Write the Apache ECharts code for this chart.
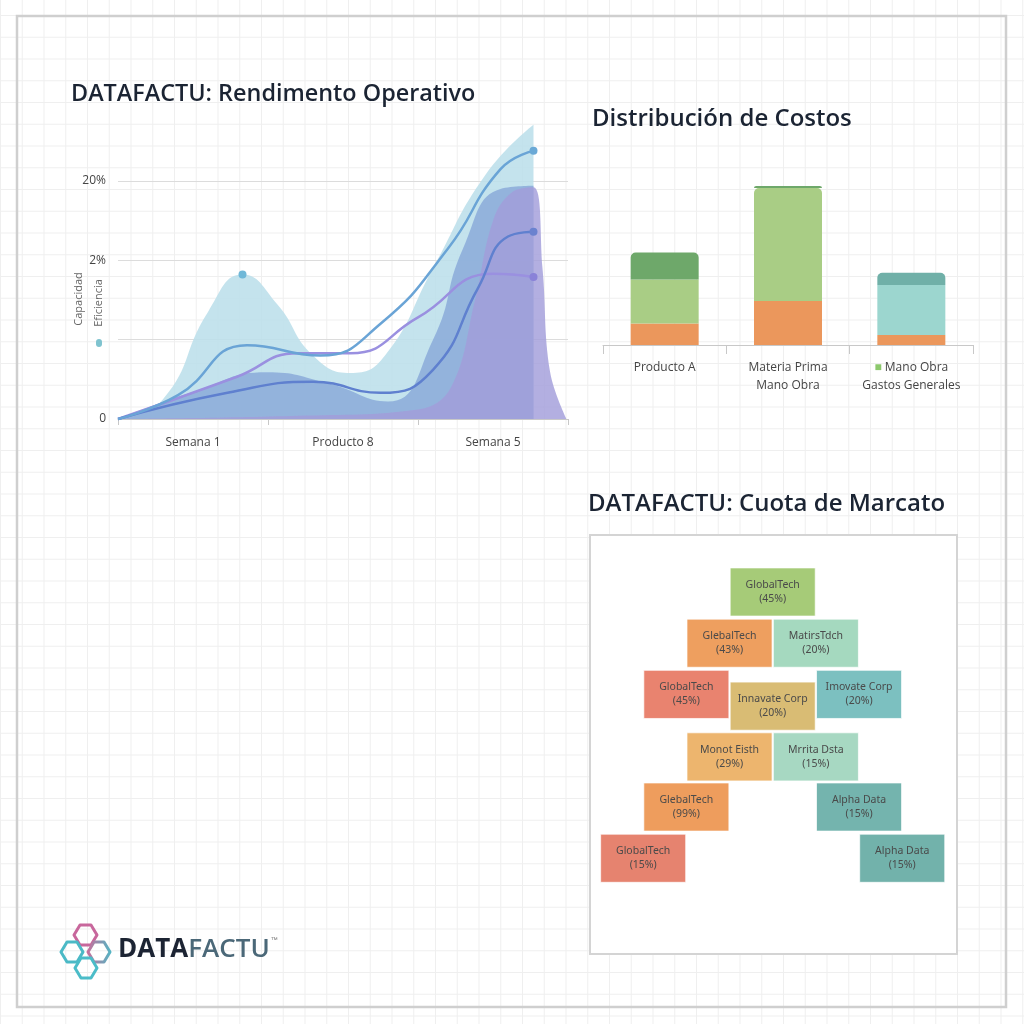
<!DOCTYPE html>
<html>
<head>
<meta charset="utf-8">
<script src="https://cdn.jsdelivr.net/npm/echarts@6/dist/echarts.min.js"></script>
<style>
  html, body { margin: 0; padding: 0; }
  body {
    width: 1024px; height: 1024px; background-color: #ffffff;
    background-image: linear-gradient(#efefef 1px, transparent 1px), linear-gradient(90deg, #efefef 1px, transparent 1px);
    background-size: 21.75px 21.75px; background-position: 0 15px;
  }
  #chart { width: 1024px; height: 1024px; }
</style>
</head>
<body>
<div id="chart"></div>
<script>
// ---------- Chart 1: Rendimento Operativo ----------
const perfCategories = ['Semana 1', 'Producto 8', 'Semana 5'];
const perfTickLabels = ['0', '', '2%', '20%'];
// [x position (0-3 along axis), value]
const lightArea = [[0,0],[0.3,0.25],[0.6,1.35],[0.83,1.82],[1.06,1.45],[1.3,0.8],[1.55,0.58],[1.78,0.8],[2.1,1.9],[2.45,3.08],[2.77,3.71]];
const mediumArea = [[0,0],[0.5,0.34],[0.99,0.59],[1.4,0.45],[1.8,0.22],[2.1,1.0],[2.3,2.15],[2.55,2.9],[2.77,2.94]];
const purpleArea = [[0,0],[1.2,0.04],[2.0,0.12],[2.22,0.4],[2.38,1.5],[2.5,2.5],[2.62,2.85],[2.77,2.92],[2.83,1.9],[2.88,0.6],[2.99,0]];
const lineA = [[0,0],[0.4,0.3],[0.86,0.93],[1.35,0.8],[1.75,1.2],[2.2,2.15],[2.55,3.15],[2.77,3.38]];
const lineB = [[0,0],[0.73,0.33],[1.3,0.47],[1.75,0.33],[2.1,0.62],[2.4,1.65],[2.6,2.3],[2.77,2.36]];
const lineC = [[0,0],[0.79,0.53],[1.2,0.83],[1.55,0.83],[2.0,1.28],[2.5,1.83],[2.77,1.79]];
const lightAreaPeakIndex = 3;

// ---------- Chart 2: Distribución de Costos ----------
const costCategories = ['Producto A', 'Materia Prima\nMano Obra', 'Mano Obra\nGastos Generales'];
const materiaPrima = [12, 24.4, 5.6];
const manoObra = [24.4, 62.8, 27.8];
const gastosGenerales = [15, 1.2, 6.7];

// ---------- Chart 3: Cuota de Marcato ----------
const blockNames = ['GlobalTech','GlebalTech','MatirsTdch','GlobalTech','Innavate Corp','Imovate Corp','Monot Eisth','Mrrita Dsta','GlebalTech','Alpha Data','GlobalTech','Alpha Data'];
const blockShares = [45, 43, 20, 45, 20, 20, 29, 15, 99, 15, 15, 15];
const blockCol = [3, 2, 4, 1, 3, 5, 2, 4, 1, 5, 0, 6];
const blockRow = [0, 1, 1, 2, 2.23, 2, 3.22, 3.22, 4.2, 4.2, 5.2, 5.2];
const blockColors = ['#a6cb78','#ee9f5f','#a5d9bf','#e9836f','#d9bc74','#7cc0c0','#edb56e','#a7d8c2','#ee9d5d','#74b4ae','#e6836f','#72b2ab'];

const chart = echarts.init(document.getElementById('chart'), null, { renderer: 'canvas' });

const titleStyle = { fontFamily: 'Open Sans', fontSize: 24, fontWeight: 600, color: '#1b2433' };
const axisLabelStyle = { fontFamily: 'Open Sans', fontSize: 12, color: '#444' };

function endPoint(arr, color) {
  return arr.map((p, i) => i === arr.length - 1
    ? { value: p, symbol: 'circle', symbolSize: 8, itemStyle: { color: color } }
    : { value: p, symbol: 'none' });
}

const SM = 0.5;
const option = {
  backgroundColor: 'transparent',
  animation: false,
  title: [
    { text: 'DATAFACTU: Rendimento Operativo', left: 66, top: 78, textStyle: Object.assign({}, titleStyle, { fontSize: 23.4 }) },
    { text: 'Distribución de Costos', left: 587, top: 102, textStyle: titleStyle },
    { text: 'DATAFACTU: Cuota de Marcato', left: 583, top: 487, textStyle: titleStyle }
  ],
  grid: [
    { left: 118, top: 181, width: 450, height: 238 },
    { left: 603, top: 165, width: 370, height: 180 },
    { left: 600, top: 540.8, width: 345.4, height: 409.6 }
  ],
  xAxis: [
    { gridIndex: 0, type: 'category', data: perfCategories, boundaryGap: true,
      axisLine: { lineStyle: { color: '#c8c8c8' } },
      axisTick: { show: true, length: 6, lineStyle: { color: '#c8c8c8' } },
      axisLabel: Object.assign({ margin: 18, interval: 0 }, axisLabelStyle) },
    { gridIndex: 0, type: 'value', min: 0, max: 3, show: false },
    { gridIndex: 1, type: 'category', data: costCategories, boundaryGap: true,
      axisLine: { lineStyle: { color: '#c8c8c8' } },
      axisTick: { show: true, length: 9, lineStyle: { color: '#c8c8c8' } },
      axisLabel: Object.assign({ margin: 14, lineHeight: 18, interval: 0, hideOverlap: false,
        formatter: (v, i) => i === 2 ? '{sq|■} ' + v : v,
        rich: { sq: { color: '#8cc86c', fontSize: 12 } } }, axisLabelStyle) },
    { gridIndex: 2, type: 'value', min: -1, max: 7, show: false }
  ],
  yAxis: [
    { gridIndex: 0, type: 'value', min: 0, max: 3, interval: 1,
      axisLine: { show: false }, axisTick: { show: false },
      splitLine: { lineStyle: { color: '#dcdcdc' } },
      axisLabel: Object.assign({ margin: 12, formatter: v => perfTickLabels[Math.round(v)] }, axisLabelStyle) },
    { gridIndex: 1, type: 'value', min: 0, max: 100, show: false },
    { gridIndex: 2, type: 'value', min: -1, max: 7, inverse: true, show: false }
  ],
  series: [
    { name: 'Capacidad', type: 'line', xAxisIndex: 1, yAxisIndex: 0, smooth: SM, clip: false,
      symbol: 'none', showSymbol: true, z: 1,
      data: lightArea.map((p, i) => i === lightAreaPeakIndex
        ? { value: p, symbol: 'circle', symbolSize: 8, itemStyle: { color: '#6fb8d8' } }
        : { value: p, symbol: 'none' }),
      lineStyle: { width: 0 }, areaStyle: { color: '#bcdfea', opacity: 0.88 } },
    { name: 'Eficiencia', type: 'line', xAxisIndex: 1, yAxisIndex: 0, smooth: SM, clip: false,
      symbol: 'none', z: 2, data: mediumArea,
      lineStyle: { width: 0 }, areaStyle: { color: '#7f9fd6', opacity: 0.7 } },
    { name: 'Producción', type: 'line', xAxisIndex: 1, yAxisIndex: 0, smooth: 0.4, clip: false,
      symbol: 'none', z: 3, data: purpleArea,
      lineStyle: { width: 0 }, areaStyle: { color: '#a29ddb', opacity: 0.82 } },
    { name: 'Línea C', type: 'line', xAxisIndex: 1, yAxisIndex: 0, smooth: SM, clip: false,
      showSymbol: true, z: 4, data: endPoint(lineC, '#8a82d8'),
      lineStyle: { width: 2.5, color: '#9a90e0' } },
    { name: 'Línea B', type: 'line', xAxisIndex: 1, yAxisIndex: 0, smooth: SM, clip: false,
      showSymbol: true, z: 5, data: endPoint(lineB, '#6a82cf'),
      lineStyle: { width: 2.5, color: '#5f80cf' } },
    { name: 'Línea A', type: 'line', xAxisIndex: 1, yAxisIndex: 0, smooth: SM, clip: false,
      showSymbol: true, z: 6, data: endPoint(lineA, '#6aa9d6'),
      lineStyle: { width: 2.5, color: '#6aa4d6' } },

    { name: 'Materia Prima', type: 'bar', xAxisIndex: 2, yAxisIndex: 1, stack: 'c', barWidth: 68,
      data: materiaPrima, itemStyle: { color: '#eb975c' } },
    { name: 'Mano Obra', type: 'bar', xAxisIndex: 2, yAxisIndex: 1, stack: 'c', barWidth: 68,
      data: manoObra.map((v, i) => i === 1 ? { value: v, itemStyle: { borderRadius: [5, 5, 0, 0] } }
        : (i === 2 ? { value: v, itemStyle: { color: '#9cd6cf' } } : v)),
      itemStyle: { color: '#a9cd85' } },
    { name: 'Gastos Generales', type: 'bar', xAxisIndex: 2, yAxisIndex: 1, stack: 'c', barWidth: 68,
      data: gastosGenerales.map((v, i) => i === 2 ? { value: v, itemStyle: { color: '#70b0a8' } } : v),
      itemStyle: { color: '#6ea86a', borderRadius: [5, 5, 0, 0] } },

    { name: 'Cuota', type: 'custom', xAxisIndex: 3, yAxisIndex: 2, z: 10,
      data: blockCol.map((c, i) => [c, blockRow[i], i]),
      renderItem: function (params, api) {
        const idx = api.value(2);
        const c = api.coord([api.value(0), api.value(1)]);
        const s = api.size([1.97, 0.94]);
        return {
          type: 'rect',
          shape: { x: c[0] - s[0] / 2, y: c[1] - s[1] / 2, width: s[0], height: s[1] },
          style: { fill: blockColors[idx], stroke: 'rgba(255,255,255,0.7)', lineWidth: 1 },
          textContent: { style: { text: blockNames[idx] + '\n(' + blockShares[idx] + '%)',
            fill: '#4a4a4a', font: '10.5px "Noto Sans"', align: 'center', verticalAlign: 'middle', lineHeight: 14 } },
          textConfig: { position: 'inside' }
        };
      }
    }
  ],
  graphic: [
    { type: 'rect', z: -10, shape: { x: 17, y: 16, width: 989, height: 991 },
      style: { fill: 'none', stroke: '#cfcfcf', lineWidth: 2.5 } },
    { type: 'rect', z: -5, shape: { x: 590, y: 535, width: 367, height: 419 },
      style: { fill: '#ffffff', stroke: '#d4d4d4', lineWidth: 2 } },
    { type: 'text', x: 79, y: 299, rotation: Math.PI / 2, style: { text: 'Capacidad', fill: '#666',
      font: '11px "Open Sans"', align: 'center', verticalAlign: 'middle' } },
    { type: 'text', x: 99, y: 303, rotation: Math.PI / 2, style: { text: 'Eficiencia', fill: '#666',
      font: '11px "Open Sans"', align: 'center', verticalAlign: 'middle' } },
    { type: 'rect', shape: { x: 96, y: 339, width: 6, height: 8, r: 3 }, style: { fill: '#7fc3cf' } },
    // logo
    { type: 'polygon', shape: { points: [[80,925],[91,925],[97,935],[91,945],[80,945],[74,935]] },
      style: { fill: 'none', stroke: '#c8679c', lineWidth: 3, lineJoin: 'round' } },
    { type: 'polygon', shape: { points: [[67,942],[77,942],[83,952],[77,962],[67,962],[61,952]] },
      style: { fill: 'none', stroke: '#4bb9c6', lineWidth: 3, lineJoin: 'round' } },
    { type: 'polygon', shape: { points: [[94,942],[104,942],[110,952],[104,962],[94,962],[88,952]] },
      style: { fill: 'none', stroke: new echarts.graphic.LinearGradient(0, 0, 1, 0, [{ offset: 0, color: '#d06a98' }, { offset: 1, color: '#4bb9c6' }]), lineWidth: 3, lineJoin: 'round' } },
    { type: 'polygon', shape: { points: [[81,958],[91,958],[97,968],[91,978],[81,978],[75,968]] },
      style: { fill: 'none', stroke: '#4bbcc8', lineWidth: 3, lineJoin: 'round' } },
    { type: 'text', x: 118, y: 950, style: { text: '{a|DATA}{b|FACTU}{c|™}', verticalAlign: 'middle',
      rich: { a: { fontFamily: 'Open Sans', fontWeight: 700, fontSize: 26, fill: '#1c2433', color: '#1c2433' },
              b: { fontFamily: 'Open Sans', fontWeight: 600, fontSize: 26, fill: '#4b6878', color: '#4b6878' },
              c: { fontSize: 7, fill: '#777', color: '#777', verticalAlign: 'top', padding: [0, 0, 14, 1] } } } }
  ]
};
chart.setOption(option);
</script>
</body>
</html>
